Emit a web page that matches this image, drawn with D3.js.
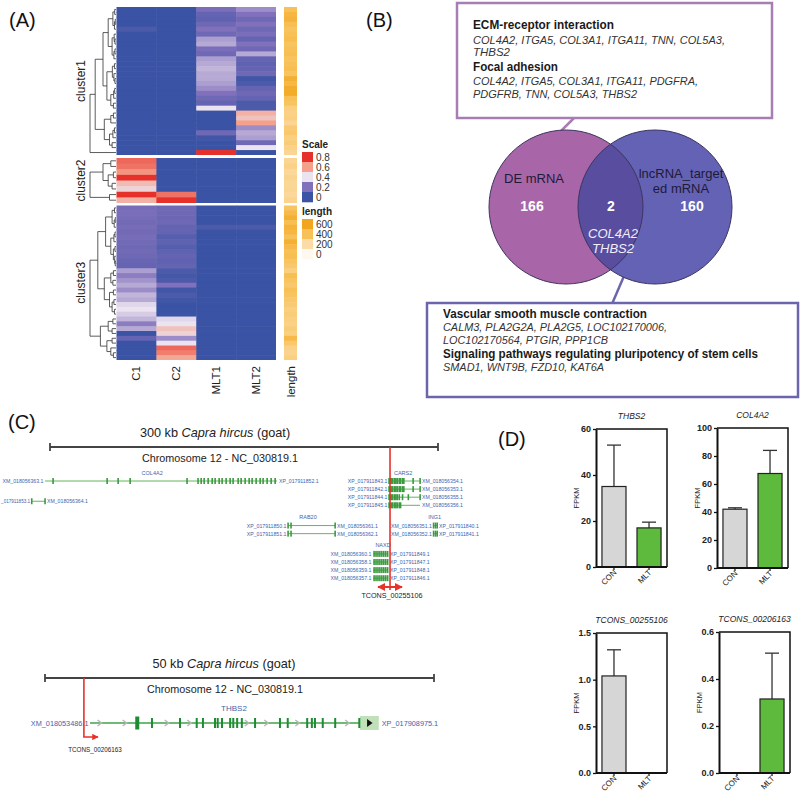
<!DOCTYPE html>
<html><head><meta charset="utf-8">
<script src="https://cdn.jsdelivr.net/npm/d3@7"></script>
<style>body{margin:0;background:#fff} svg{font-family:"Liberation Sans",Arial,sans-serif}</style>
</head><body><svg id="c" width="800" height="800"></svg>
<script>
// ===================== DATA =====================
// Panel A heatmap
const heatColumns = ["C1","C2","MLT1","MLT2"];
const heatStops = [0,0.2,0.4,0.6,0.8];
const heatColors = ["#3a53a4","#8170bb","#ebe3ef","#f4a08b","#e6302a"];
const heatLegendLabels = ["0.8","0.6","0.4","0.2","0"];
const lengthStops = [0,200,400,600];
const lengthColors = ["#fff8ee","#fbdca6","#f8c158","#f2a51e"];
const lengthLegendLabels = ["600","400","200","0"];
const clusterNames = ["cluster1","cluster2","cluster3"];
const cluster1Values = [
 [0,0,0.18,0.25],[0,0,0.12,0.2],[0,0,0.1,0.15],[0,0,0.15,0.2],[0.05,0,0.2,0.15],
 [0,0,0.15,0.18],[0,0,0.28,0.12],[0,0,0.3,0.2],[0,0,0.18,0.15],[0,0,0.15,0.3],
 [0,0,0.28,0.12],[0,0,0.3,0.1],[0,0,0.32,0.12],[0,0,0.3,0.15],[0,0,0.3,0.02],
 [0,0,0.28,0.05],[0,0,0.25,0.12],[0,0,0.2,0.15],[0,0,0.15,0.12],[0,0,0.12,0.05],
 [0,0,0.4,0.05],[0,0,0,0.55],[0,0,0,0.5],[0,0,0,0.6],[0,0,0,0.25],
 [0,0,0.15,0.3],[0,0,0.02,0.28],[0,0,0,0.15],[0,0,0,0.4],[0,0,0.8,0]
];
const cluster1Length = [400,480,500,420,380,400,430,380,400,420,380,400,420,380,520,460,550,560,400,380,300,280,300,250,330,350,300,320,280,250];
const cluster2Values = [
 [0.7,0,0,0],[0.68,0,0,0],[0.62,0,0,0],[0.8,0,0,0],[0.52,0,0,0],[0.45,0,0,0],[0.8,0.68,0,0],[0.55,0.8,0,0]
];
const cluster2Length = [250,280,230,260,240,250,230,260];
const cluster3Values = [
 [0.17,0.15,0,0],[0.18,0.15,0,0],[0.17,0.14,0,0],[0.16,0.15,0,0],[0.17,0.12,0.05,0.05],
 [0.16,0.12,0,0],[0.17,0.08,0,0],[0.16,0.1,0,0],[0.15,0.08,0,0],[0.16,0.1,0,0],
 [0.15,0.12,0,0],[0.13,0.1,0,0],[0.12,0.12,0,0],[0.28,0.05,0,0],[0.22,0.03,0,0],
 [0.26,0.05,0,0],[0.3,0.2,0,0],[0.25,0.02,0,0],[0.32,0.05,0,0],[0.3,0.02,0,0],
 [0.38,0,0,0],[0.4,0,0,0],[0.36,0,0,0],[0.32,0.38,0,0],[0.22,0.4,0,0],
 [0.3,0.5,0,0],[0,0.45,0,0],[0.12,0.25,0,0],[0,0.4,0,0],[0,0.7,0,0],
 [0,0.66,0,0],[0,0.58,0,0]
];
const cluster3Length = [380,450,520,420,500,480,400,520,450,400,420,380,350,300,420,380,350,400,380,350,330,300,320,300,280,320,300,450,350,280,260,300];
// dendrograms: [height, left, right], leaves = row index
const cluster1Tree = [1.0,
  [0.8,
    [0.5,
      [0.3,[0.12,[0.05,0,1],[0.06,[0.03,2,3],4]],[0.15,[0.07,5,[0.04,6,7]],[0.08,[0.04,8,9],10]]],
      [0.35,[0.14,[0.06,11,12],[0.08,13,[0.04,14,15]]],[0.2,[0.09,[0.05,16,17],18],[0.1,19,20]]]],
    [0.45,[0.2,[0.1,21,22],23],[0.25,[0.12,[0.06,24,25],26],[0.15,27,28]]]],
  29];
const cluster2Tree = [1.0,[0.5,[0.2,0,1],[0.3,[0.1,2,3],[0.15,4,5]]],[0.25,6,7]];
const cluster3Tree = [1.0,
  [0.7,
    [0.4,[0.15,[0.06,0,1],[0.07,[0.03,2,3],4]],[0.2,[0.08,[0.04,5,6],7],[0.1,[0.04,8,9],[0.05,10,[0.03,11,12]]]]],
    [0.45,[0.2,[0.1,13,14],[0.12,15,16]],[0.25,[0.1,17,18],[0.15,[0.08,19,20],[0.06,21,22]]]]],
  [0.6,[0.3,[0.12,23,24],[0.15,25,26]],[0.35,[0.15,27,28],[0.2,29,[0.1,30,31]]]]];

// Panel B Venn
const vennNames = ["DE mRNA", ["lncRNA_target","ed mRNA"]];
const vennOnly = [166, 160];
const vennShared = 2;
const vennSharedGenes = ["COL4A2","THBS2"];
const dePathways = [
  {name:"ECM-receptor interaction", genes:["COL4A2, ITGA5, COL3A1, ITGA11, TNN, COL5A3,","THBS2"]},
  {name:"Focal adhesion", genes:["COL4A2, ITGA5, COL3A1, ITGA11, PDGFRA,","PDGFRB, TNN, COL5A3, THBS2"]}
];
const lncPathways = [
  {name:"Vascular smooth muscle contraction", genes:["CALM3, PLA2G2A, PLA2G5, LOC102170006,","LOC102170564, PTGIR, PPP1CB"]},
  {name:"Signaling pathways regulating pluripotency of stem cells", genes:["SMAD1, WNT9B, FZD10, KAT6A"]}
];

// Panel C genome tracks (positions in kb)
const track300Transcripts = [
  {lane:0, start:-3.9, end:175.5, left:"XM_018056363.1", right:"XP_017911852.1",
   exons:[2.3,44.1,52.6,61.9,105.9,114.4,116.8,119.1,122.2,125.3,127.6,130.7,133,136.1,139.2,141.5,145.4,147.7,150.8,153.9,156.2,159.3,162.4,164.7,167.8,170.9,174]},
  {lane:2.5, start:-14.2, end:-3.9, left:"_017911853.1", right:"XM_018056364.1", exons:[-14.2,-3.9]},
  {lane:0, start:262.1, end:286.1, left:"XP_017911843.1", right:"XM_018056354.1", exons:[262.1,263,264.2,265,266.5,267.4,268.5,270,271,272.5,273.5,280.7,286.1]},
  {lane:1, start:262.1, end:286.1, left:"XP_017911842.1", right:"XM_018056353.1", exons:[262.1,263,264.2,265,266.5,267.4,268.5,270,271,272.5,273.5,280.7,286.1]},
  {lane:2, start:262.1, end:286.1, left:"XP_017911844.1", right:"XM_018056355.1", exons:[262.1,263,264.2,265,266.5,267.4,268.5,270,272.5,277,286.1]},
  {lane:3, start:262.1, end:286.1, left:"XP_017911845.1", right:"XM_018056356.1", exons:[262.1,263,264.2,265,266.5,267.4,268.5,270,271]},
  {lane:5.5, start:184, end:220.4, left:"XP_017911850.1", right:"XM_018056361.1", exons:[184,186.3,220.4]},
  {lane:6.5, start:184, end:220.4, left:"XP_017911851.1", right:"XM_018056362.1", exons:[184,186.3,220.4]},
  {lane:5.5, start:296.5, end:299.3, left:"XM_018056351.1", right:"XP_017911840.1", exons:[296.5,298,299.3]},
  {lane:6.5, start:296.5, end:299.3, left:"XM_018056352.1", right:"XP_017911841.1", exons:[296.5,298,299.3]},
  {lane:9, start:249.7, end:261.3, left:"XM_018056360.1", right:"XP_017911849.1", exons:[250.5,252,253.5,255,256.5,258,259.5,261]},
  {lane:10, start:249.7, end:261.3, left:"XM_018056358.1", right:"XP_017911847.1", exons:[250.5,252,253.5,255,256.5,258,259.5,261]},
  {lane:11, start:249.7, end:261.3, left:"XM_018056359.1", right:"XP_017911848.1", exons:[250.5,252,253.5,255,256.5,258,259.5,261]},
  {lane:12, start:249.7, end:261.3, left:"XM_018056357.1", right:"XP_017911846.1", exons:[250.5,252,253.5,255,256.5,258,259.5,261]}
];
const track300Genes = [
  {name:"COL4A2", kb:79, lane:0},{name:"CARS2", kb:273, lane:0},{name:"RAB20", kb:199.5, lane:5.5},
  {name:"ING1", kb:297.5, lane:5.5},{name:"NAXD", kb:257.5, lane:9}
];
const tcons1 = {name:"TCONS_00255106", site:262.9, from:253.6, to:272.2};
const thbs2Transcript = {name:"THBS2", start:5.78, end:40.5, utr:[40.5,42.9], left:"XM_018053486.1", right:"XP_017908975.1"};
const thbs2Exons = [13.75,17.35,19.5,20.3,21.85,22.2,22.75,23.8,24.2,24.7,25.3,27.0,30.2,31.2,33.7,34.3,34.7,35.7,37.3,40.4];
const thbs2BigExons = [11.6];
const thbs2Arrows = [7.07,10.3,15.7,18.6,26.0,28.5,32.5,38.9];
const tcons2 = {name:"TCONS_00206163", site:5.0, to:7.2};

// Panel D bar charts
const barGroups = ["CON","MLT"];
const barTitles = ["THBS2","COL4A2","TCONS_00255106","TCONS_00206163"];
const barMeans = [[35,17],[42,67.5],[1.04,0],[0,0.315]];
const barSD = [[18,2.5],[1,16.5],[0.28,0],[0,0.195]];
const barYMax = [60,100,1.5,0.6];
const barYTicks = [[0,20,40,60],[0,20,40,60,80,100],[0,0.5,1.0,1.5],[0,0.2,0.4,0.6]];
const barColors = ["#d6d6d6","#5dba3d"];

// ===================== DRAW =====================
const svg = d3.select("#c");
svg.append("rect").attr("width",800).attr("height",800).attr("fill","#fff");

// panel labels
[["(A)",9,27],["(B)",366,27],["(C)",8,429],["(D)",498,446]].forEach(([t,x,y])=>
  svg.append("text").attr("x",x).attr("y",y).attr("font-size",20).attr("fill","#111").text(t));

// ---------- Panel A ----------
const gA = svg.append("g");
const hxs = d3.scaleBand().domain(heatColumns).range([116.5,276]);
const heatColor = d3.scaleLinear().domain(heatStops).range(heatColors).clamp(true);
const lenColor = d3.scaleLinear().domain(lengthStops).range(lengthColors).clamp(true);
const dxs = d3.scaleLinear().domain([0,1]).range([116,90]);
const clusterDefs = [
  {rows:cluster1Values, len:cluster1Length, tree:cluster1Tree, y:[7,155]},
  {rows:cluster2Values, len:cluster2Length, tree:cluster2Tree, y:[158,203]},
  {rows:cluster3Values, len:cluster3Length, tree:cluster3Tree, y:[205.5,360]}
];
function drawTree(node, ys, g){
  if (typeof node === "number") return {y: ys(node)+ys.bandwidth()/2, h:0};
  const [h,a,b] = node;
  const A = drawTree(a,ys,g), B = drawTree(b,ys,g);
  g.append("path").attr("d",`M${dxs(A.h)},${A.y}H${dxs(h)}V${B.y}H${dxs(B.h)}`)
    .attr("fill","none").attr("stroke","#333").attr("stroke-width",0.8);
  return {y:(A.y+B.y)/2, h};
}
clusterDefs.forEach((c,ci)=>{
  const ys = d3.scaleBand().domain(d3.range(c.rows.length)).range(c.y);
  const n = c.rows.length;
  const g = gA.append("g");
  c.rows.forEach((r,i)=>{
    const ext = i<n-1 ? 0.6 : 0;
    g.selectAll(null).data(r).join("rect")
      .attr("x",(d,j)=>hxs(heatColumns[j])).attr("y",ys(i))
      .attr("width",(d,j)=>hxs.bandwidth()+(j<3?0.5:0)).attr("height",ys.bandwidth()+ext)
      .attr("fill",d=>heatColor(d));
    g.append("rect").attr("x",284).attr("y",ys(i)).attr("width",13)
      .attr("height",ys.bandwidth()+ext).attr("fill",lenColor(c.len[i]));
  });
  drawTree(c.tree, ys, gA);
  const cy = (c.y[0]+c.y[1])/2;
  gA.append("text").attr("transform",`translate(85,${cy}) rotate(-90)`).attr("text-anchor","middle")
    .attr("font-size",12).attr("fill","#222").text(clusterNames[ci]);
});
heatColumns.concat(["length"]).forEach((col,i)=>{
  const x = i<4 ? hxs(col)+hxs.bandwidth()/2 : 290.5;
  gA.append("text").attr("transform",`translate(${x+4},366) rotate(-90)`).attr("text-anchor","end")
    .attr("font-size",11.5).attr("fill","#222").text(col);
});
// legends
gA.append("text").attr("x",302).attr("y",148).attr("font-size",10).attr("font-weight","bold").attr("fill","#222").text("Scale");
heatLegendLabels.forEach((l,i)=>{
  gA.append("rect").attr("x",302).attr("y",152+i*10).attr("width",11).attr("height",10.3).attr("fill",heatColor(+l));
  gA.append("text").attr("x",316).attr("y",160.5+i*10).attr("font-size",10).attr("fill","#333").text(l);
});
gA.append("text").attr("x",302).attr("y",215).attr("font-size",10).attr("font-weight","bold").attr("fill","#222").text("length");
lengthLegendLabels.forEach((l,i)=>{
  gA.append("rect").attr("x",302).attr("y",219+i*10).attr("width",11).attr("height",10.3).attr("fill",lenColor(+l));
  gA.append("text").attr("x",316).attr("y",227.5+i*10).attr("font-size",10).attr("fill","#333").text(l);
});

// ---------- Panel B ----------
const gB = svg.append("g");
// target text widths (layout) for each line of the boxes, in order
const topBoxWidths = [141,252,37,85,225,164];
const botBoxWidths = [204,224,165,315,161];
function pathwayBox(g, box, color, items, tx, ty, steps, widths, hSize){
  g.append("rect").attr("x",box[0]).attr("y",box[1]).attr("width",box[2]).attr("height",box[3])
    .attr("fill","#fff").attr("stroke",color).attr("stroke-width",2.5);
  let y = ty, li = 0;
  items.forEach((p,pi)=>{
    if (pi>0) y += steps[2];
    g.append("text").attr("x",tx).attr("y",y).attr("font-size",hSize).attr("font-weight","bold").attr("fill","#1a1a1a")
      .attr("textLength",widths[li++]).attr("lengthAdjust","spacingAndGlyphs").text(p.name);
    p.genes.forEach((gn,gi)=>{
      y += gi===0 ? steps[0] : steps[1];
      g.append("text").attr("x",tx).attr("y",y).attr("font-size",11).attr("font-style","italic").attr("fill","#333")
        .attr("textLength",widths[li++]).attr("lengthAdjust","spacingAndGlyphs").text(gn);
    });
  });
}
// callout lines
gB.append("line").attr("x1",575).attr("y1",117).attr("x2",561).attr("y2",131).attr("stroke","#a77db3").attr("stroke-width",2.5);
gB.append("line").attr("x1",624).attr("y1",276).attr("x2",612).attr("y2",304).attr("stroke","#6b66ac").attr("stroke-width",2.5);
pathwayBox(gB,[457,3,315,115],"#a77db3",dePathways,473,29,[14.5,12.5,14.5],topBoxWidths,12);
pathwayBox(gB,[427,303,371,94],"#6b66ac",lncPathways,443,318,[13,13,14],botBoxWidths,12.5);
// venn
const vc = [{cx:566,cy:207,r:77,fill:"#a866a9"},{cx:655,cy:207,r:77,fill:"#6462b4"}];
const defs = svg.append("defs");
defs.append("clipPath").attr("id","clipL").append("circle").attr("cx",vc[0].cx).attr("cy",vc[0].cy).attr("r",vc[0].r);
vc.forEach(c=>gB.append("circle").attr("cx",c.cx).attr("cy",c.cy).attr("r",c.r).attr("fill",c.fill));
gB.append("circle").attr("cx",vc[1].cx).attr("cy",vc[1].cy).attr("r",vc[1].r).attr("fill","#584d9e").attr("clip-path","url(#clipL)");
vc.forEach(c=>gB.append("circle").attr("cx",c.cx).attr("cy",c.cy).attr("r",c.r).attr("fill","none").attr("stroke","#3d3560").attr("stroke-width",1));
gB.append("text").attr("x",534).attr("y",183).attr("text-anchor","middle").attr("font-size",13).attr("fill","#1e1a38").text(vennNames[0]);
vennNames[1].forEach((t,i)=>gB.append("text").attr("x",681).attr("y",178+i*15).attr("text-anchor","middle").attr("font-size",13).attr("fill","#1e1a38").text(t));
[[532,vennOnly[0]],[611,vennShared],[692,vennOnly[1]]].forEach(([x,v])=>
  gB.append("text").attr("x",x).attr("y",211).attr("text-anchor","middle").attr("font-size",14).attr("font-weight","bold").attr("fill","#fff").text(v));
vennSharedGenes.forEach((t,i)=>gB.append("text").attr("x",613).attr("y",238+i*15).attr("text-anchor","middle")
  .attr("font-size",13).attr("font-style","italic").attr("fill","#f0eefa").text(t));

// ---------- Panel C ----------
const gC = svg.append("g");
function titleText(g, x, y, kb){
  const t = g.append("text").attr("x",x).attr("y",y).attr("text-anchor","middle").attr("font-size",12.7).attr("fill","#222");
  t.append("tspan").text(kb+" kb ");
  t.append("tspan").attr("font-style","italic").text("Capra hircus");
  t.append("tspan").text(" (goat)");
}
// top track
const s300 = d3.scaleLinear().domain([0,300]).range([50,438]);
const laneY = l => 481 + l*8.1;
titleText(gC,215,437,300);
gC.append("path").attr("d",`M${s300(0)},443V451M${s300(0)},447H${s300(300)}M${s300(300)},443V451`).attr("stroke","#444").attr("stroke-width",1.8).attr("fill","none");
gC.append("text").attr("x",220).attr("y",462).attr("text-anchor","middle").attr("font-size",10.8).attr("fill","#222").text("Chromosome 12 - NC_030819.1");
track300Transcripts.forEach(t=>{
  const y = laneY(t.lane);
  const lx = s300(t.start)-1.5;
  gC.append("line").attr("x1",s300(t.start)).attr("x2",s300(t.end)).attr("y1",y).attr("y2",y).attr("stroke","#62b65e").attr("stroke-width",1);
  gC.selectAll(null).data(t.exons).join("rect").attr("x",d=>s300(d)-0.7).attr("y",y-3).attr("width",1.6).attr("height",6).attr("fill","#3a9a3e");
  gC.append("text").attr("x",lx).attr("y",y+2).attr("text-anchor","end").attr("font-size",lx<40?4.6:5.2).attr("fill","#3e64ad").text(t.left);
  gC.append("text").attr("x",s300(t.end)+2).attr("y",y+2).attr("font-size",5.2).attr("fill","#3e64ad").text(t.right);
});
track300Genes.forEach(g=>gC.append("text").attr("x",s300(g.kb)).attr("y",laneY(g.lane)-6.5).attr("text-anchor","middle")
  .attr("font-size",5.5).attr("fill","#3e64ad").text(g.name));
defs.append("marker").attr("id","redArr").attr("viewBox","0 0 10 10").attr("refX",9).attr("refY",5)
  .attr("markerWidth",4).attr("markerHeight",4).attr("orient","auto-start-reverse")
  .append("path").attr("d","M0,0L10,5L0,10z").attr("fill","#e8322a");
gC.append("line").attr("x1",s300(tcons1.site)).attr("x2",s300(tcons1.site)).attr("y1",447).attr("y2",590).attr("stroke","#e8322a").attr("stroke-width",1.6);
gC.append("line").attr("x1",s300(tcons1.from)).attr("x2",s300(tcons1.to)).attr("y1",587).attr("y2",587).attr("stroke","#e8322a").attr("stroke-width",2)
  .attr("marker-start","url(#redArr)").attr("marker-end","url(#redArr)");
gC.append("text").attr("x",392).attr("y",598).attr("text-anchor","middle").attr("font-size",7.2).attr("fill","#222").text(tcons1.name);

// bottom track
const s50 = d3.scaleLinear().domain([0,50]).range([45,434]);
titleText(gC,224,668,50);
gC.append("path").attr("d",`M${s50(0)},674V682M${s50(0)},678H${s50(50)}M${s50(50)},674V682`).attr("stroke","#444").attr("stroke-width",1.8).attr("fill","none");
gC.append("text").attr("x",225).attr("y",693).attr("text-anchor","middle").attr("font-size",10.8).attr("fill","#222").text("Chromosome 12 - NC_030819.1");
const gy = 723;
gC.append("text").attr("x",234).attr("y",711).attr("text-anchor","middle").attr("font-size",8).attr("fill","#3e64ad").text(thbs2Transcript.name);
gC.append("line").attr("x1",s50(thbs2Transcript.start)).attr("x2",s50(thbs2Transcript.end)).attr("y1",gy).attr("y2",gy).attr("stroke","#3ea44b").attr("stroke-width",1.4);
gC.append("rect").attr("x",s50(thbs2Transcript.utr[0])).attr("y",gy-7).attr("width",s50(thbs2Transcript.utr[1])-s50(thbs2Transcript.utr[0])).attr("height",14).attr("fill","#bfe0b8");
gC.append("path").attr("d",`M${s50(41.4)},${gy-4}L${s50(42.1)},${gy}L${s50(41.4)},${gy+4}z`).attr("fill","#111");
gC.selectAll(null).data(thbs2Arrows).join("path").attr("d",d=>`M${s50(d)-2.5},${gy-3}L${s50(d)+1.5},${gy}L${s50(d)-2.5},${gy+3}`)
  .attr("fill","none").attr("stroke","#b8b8b8").attr("stroke-width",1.5);
gC.selectAll(null).data(thbs2Exons).join("rect").attr("x",d=>s50(d)-1).attr("y",gy-5).attr("width",2).attr("height",10).attr("fill","#1f8c34");
gC.selectAll(null).data(thbs2BigExons).join("rect").attr("x",d=>s50(d)).attr("y",gy-6.5).attr("width",4).attr("height",13).attr("fill","#1f8c34");
gC.append("text").attr("x",s50(thbs2Transcript.start)-1.5).attr("y",gy+3).attr("text-anchor","end").attr("font-size",7.3).attr("fill","#3e64ad").text(thbs2Transcript.left);
gC.append("text").attr("x",s50(thbs2Transcript.utr[1])+3).attr("y",gy+3).attr("font-size",7.3).attr("fill","#3e64ad").text(thbs2Transcript.right);
gC.append("path").attr("d",`M${s50(tcons2.site)},678V737H${s50(tcons2.to)-3}`).attr("fill","none").attr("stroke","#e8322a").attr("stroke-width",1.6)
  .attr("marker-end","url(#redArr)");
gC.append("text").attr("x",95).attr("y",752).attr("text-anchor","middle").attr("font-size",6.3).attr("fill","#222").text(tcons2.name);

// ---------- Panel D ----------
const gD = svg.append("g");
const frames = [[596,667,429,567],[717,788,428,568],[596,667,633,773],[719,790,632,773]];
barTitles.forEach((title,k)=>{
  const [x0,x1,y0,y1] = frames[k];
  const g = gD.append("g");
  const xs = d3.scaleBand().domain(barGroups).range([x0,x1]).paddingInner(0.314).paddingOuter(0.17);
  const ys = d3.scaleLinear().domain([0,barYMax[k]]).range([y1,y0]);
  const fmt = barYMax[k] < 2 ? d3.format(".1f") : d3.format("d");
  barGroups.forEach((grp,i)=>{
    const m = barMeans[k][i], sd = barSD[k][i];
    if (m>0){
      const cx = xs(grp)+xs.bandwidth()/2;
      g.append("line").attr("x1",cx).attr("x2",cx).attr("y1",ys(m)).attr("y2",ys(m+sd)).attr("stroke","#333").attr("stroke-width",1.3);
      g.append("line").attr("x1",cx-7).attr("x2",cx+7).attr("y1",ys(m+sd)).attr("y2",ys(m+sd)).attr("stroke","#333").attr("stroke-width",1.3);
      g.append("rect").attr("x",xs(grp)).attr("y",ys(m)).attr("width",xs.bandwidth()).attr("height",ys(0)-ys(m))
        .attr("fill",barColors[i]).attr("stroke","#222").attr("stroke-width",1.2);
    }
  });
  g.append("path").attr("d",`M${x0},${y0}H${x1}V${y1}`).attr("fill","none").attr("stroke","#111").attr("stroke-width",1.5);
  const ax = g.append("g").attr("transform",`translate(${x0},0)`).call(d3.axisLeft(ys).tickValues(barYTicks[k]).tickFormat(fmt).tickSize(3).tickSizeOuter(0));
  ax.select(".domain").attr("stroke","#111").attr("stroke-width",2);
  ax.selectAll(".tick line").attr("stroke","#111").attr("stroke-width",1.3);
  ax.selectAll(".tick text").attr("font-size",9).attr("font-weight","bold").attr("fill","#222").attr("font-family",'"Liberation Sans",Arial,sans-serif').attr("dx",1);
  g.append("line").attr("x1",x0).attr("x2",x1).attr("y1",y1).attr("y2",y1).attr("stroke","#111").attr("stroke-width",2.2);
  barGroups.forEach(grp=>{
    const cx = xs(grp)+xs.bandwidth()/2;
    g.append("line").attr("x1",cx).attr("x2",cx).attr("y1",y1).attr("y2",y1+3).attr("stroke","#111").attr("stroke-width",1.2);
    g.append("text").attr("transform",`translate(${cx+3},${y1+6}) rotate(-45)`).attr("text-anchor","end")
      .attr("font-size",8).attr("fill","#222").text(grp);
  });
  g.append("text").attr("transform",`translate(${x0-17},${(y0+y1)/2}) rotate(-90)`).attr("text-anchor","middle")
    .attr("font-size",7.5).attr("fill","#222").text("FPKM");
  g.append("text").attr("x",(x0+x1)/2).attr("y",y0-10).attr("text-anchor","middle").attr("font-size",8.5)
    .attr("font-style","italic").attr("fill","#222").text(title);
});
</script></body></html>
